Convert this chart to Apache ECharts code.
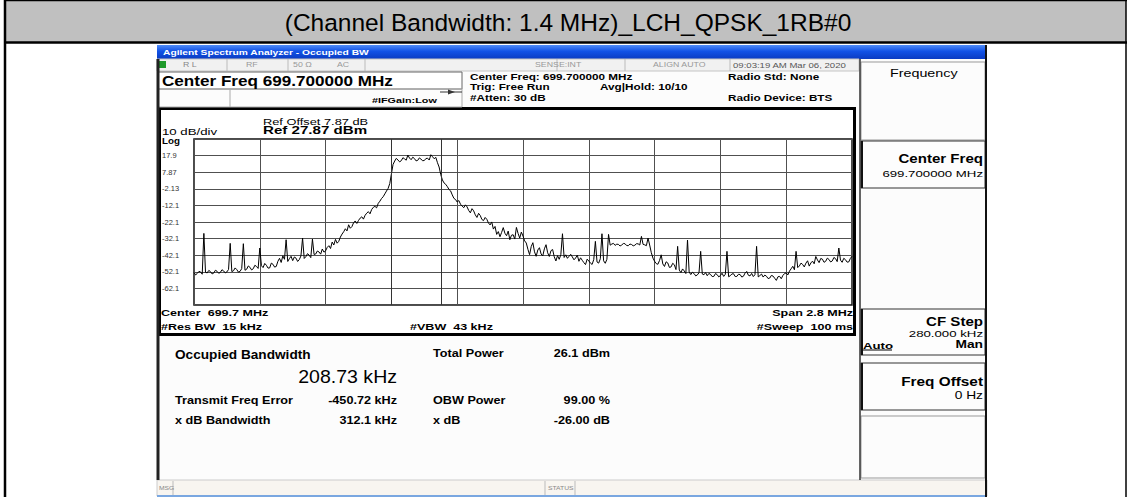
<!DOCTYPE html>
<html>
<head>
<meta charset="utf-8">
<title>Occupied BW</title>
<script src="https://cdn.jsdelivr.net/npm/echarts@6/dist/echarts.min.js"></script>
<style>
  html, body { margin: 0; padding: 0; background: #fff; }
  #main { width: 1130px; height: 497px; }
</style>
</head>
<body>
<div id="main"></div>
<script>
// values
const tableTitle = '(Channel Bandwidth: 1.4 MHz)_LCH_QPSK_1RB#0';
const startMHz = 698.3;
const spanMHz = 2.8;
const refLevel = 27.87; // dBm at top graticule line
const yTickLabels = ['17.9', '7.87', '-2.13', '-12.1', '-22.1', '-32.1', '-42.1', '-52.1', '-62.1'];
const obwEdgesMHz = [699.1449, 699.3536];

// trace in dBm, 401 points across the span (20 per division)
const traceDbm = [
  -52.6, -54.0, -53.1, -51.9, -52.2, -53.6, -29.0, -52.4, -52.8, -51.3, -52.0, -53.4, -52.9, -51.2, -51.8, -53.0, -52.5, -50.9, -51.6, -52.8,
  -52.2, -50.7, -35.0, -52.0, -51.5, -49.8, -50.8, -52.3, -51.9, -50.2, -35.2, -51.2, -50.6, -48.6, -49.4, -51.0, -50.3, -48.2, -48.9, -50.1,
  -37.8, -48.5, -49.6, -47.1, -48.2, -49.9, -49.8, -46.9, -47.6, -49.3, -48.9, -45.8, -44.0, -46.5, -42.5, -44.6, -32.8, -45.9, -44.2, -42.8,
  -45.4, -43.2, -43.9, -45.9, -44.8, -42.6, -31.8, -44.1, -43.0, -41.2, -42.1, -43.6, -32.4, -41.7, -41.4, -39.6, -40.2, -41.5, -38.4, -40.3,
  -39.5, -37.4, -36.4, -38.1, -34.2, -36.0, -32.6, -34.9, -33.8, -31.2, -29.4, -28.0, -26.2, -27.5, -23.8, -25.9, -24.9, -22.6, -21.5, -23.0,
  -21.2, -19.8, -19.0, -20.4, -18.1, -16.8, -15.9, -17.2, -14.6, -13.3, -12.7, -13.6, -10.9, -9.6, -8.0, -6.9, -5.2, -3.5, -1.9, 1.0,
  6.8, 12.5, 14.6, 16.2, 15.2, 14.1, 14.8, 16.6, 15.9, 15.1, 18.2, 16.4, 15.4, 16.9, 16.1, 14.7, 15.0, 16.5, 15.7, 14.8,
  14.9, 16.1, 16.3, 15.2, 18.4, 17.2, 16.0, 16.8, 13.6, 11.0, 6.4, 3.2, 1.4, 0.6, -0.8, -2.5, -3.4, -5.8, -7.9, -8.6,
  -10.1, -9.2, -11.4, -12.6, -13.5, -11.8, -13.0, -15.2, -16.6, -14.1, -15.4, -17.8, -19.4, -16.9, -18.2, -20.6, -21.3, -19.4, -20.5, -22.7,
  -23.9, -22.1, -26.4, -24.8, -29.6, -27.9, -31.0, -28.4, -25.5, -28.9, -30.4, -27.6, -32.8, -30.1, -29.8, -32.4, -25.4, -29.0, -31.8, -28.2,
  -30.6, -33.5, -34.8, -38.6, -41.8, -36.9, -34.6, -40.1, -42.8, -39.0, -37.6, -41.4, -42.6, -38.3, -35.8, -40.7, -42.9, -39.4, -38.7, -43.1,
  -45.6, -42.4, -44.6, -41.8, -29.2, -43.5, -41.9, -44.0, -42.8, -41.6, -43.2, -44.9, -43.8, -42.1, -45.8, -43.7, -45.2, -46.6, -47.8, -44.5,
  -45.6, -46.9, -47.7, -44.8, -33.8, -46.2, -46.9, -44.3, -29.2, -45.5, -47.0, -44.6, -29.6, -36.1, -35.4, -35.0, -36.2, -35.5, -35.6, -36.6,
  -36.0, -35.1, -35.2, -36.3, -36.4, -35.4, -35.7, -36.5, -36.1, -35.2, -35.3, -36.0, -30.8, -35.6, -35.9, -36.4, -31.8, -36.0, -40.6, -43.9,
  -45.8, -47.2, -47.6, -45.3, -41.9, -47.4, -48.9, -46.1, -46.8, -49.5, -49.2, -47.0, -47.9, -50.8, -36.8, -51.1, -52.6, -50.4, -51.6, -53.2,
  -33.0, -52.2, -53.8, -52.4, -53.2, -54.6, -54.0, -52.7, -39.8, -53.5, -53.9, -52.6, -54.5, -53.1, -53.7, -55.0, -54.9, -53.2, -53.8, -55.2,
  -54.4, -53.0, -54.9, -53.6, -39.8, -55.1, -54.5, -53.4, -53.3, -55.0, -54.9, -53.6, -53.8, -55.3, -54.8, -52.9, -51.9, -54.2, -54.6, -53.1,
  -55.0, -53.9, -36.8, -55.2, -54.4, -53.5, -55.3, -54.1, -54.8, -56.2, -55.9, -54.3, -54.7, -56.0, -57.3, -55.1, -54.9, -56.3, -54.3, -53.2,
  -52.8, -54.0, -51.7, -50.3, -48.8, -50.9, -39.8, -49.6, -48.6, -46.9, -47.7, -49.2, -46.9, -45.5, -48.7, -46.8, -45.7, -47.3, -42.9, -45.0,
  -46.6, -44.1, -44.5, -46.4, -45.8, -43.9, -44.7, -46.2, -45.6, -43.5, -44.2, -46.0, -37.8, -45.1, -46.4, -44.0, -44.8, -46.3, -46.2, -44.1,
  -42.8
];

// measurement table text
const measLeft = [['Transmit Freq Error', '-450.72 kHz'], ['x dB Bandwidth', '312.1 kHz']];
const measRight = [['Total Power', '26.1 dBm'], ['OBW Power', '99.00 %'], ['x dB', '-26.00 dB']];

const FONT = '"Liberation Sans", Arial, sans-serif';
const SX = 1.35; // the screen grab is stretched sideways

function txt(x, y, s, size, o) {
  o = o || {};
  let al = o.align || 'left';
  return {
    type: 'text', x: x, y: y, scaleX: o.sx || 1, z: 10,
    style: {
      text: s, x: 0, y: 0,
      font: (o.bold ? 'bold ' : '') + size + 'px ' + FONT,
      fill: o.color || '#000',
      textAlign: al, align: al,
      textVerticalAlign: 'middle', verticalAlign: 'middle'
    }
  };
}
// screen text: stretched like the grab
function stxt(x, y, s, size, o) {
  o = o || {};
  o.sx = o.sx || SX;
  return txt(x, y, s, size, o);
}
function box(x, y, w, h, fill, stroke, lw, z) {
  return {
    type: 'rect', z: z == null ? -1 : z,
    shape: { x: x, y: y, width: w, height: h },
    style: { fill: fill || 'none', stroke: stroke || null, lineWidth: lw || 1 }
  };
}
function ln(x1, y1, x2, y2, color, lw, z) {
  return {
    type: 'line', z: z == null ? 5 : z,
    shape: { x1: x1, y1: y1, x2: x2, y2: y2 },
    style: { stroke: color || '#000', lineWidth: lw || 1 }
  };
}

let g = [];
// outer table
g.push(box(5, 1, 1121, 41, '#c0c0c0'));
g.push(ln(4, 0.5, 1127, 0.5, '#000', 1.5));
g.push(ln(4, 42.5, 1127, 42.5, '#000', 2.5));
g.push(ln(5, 0, 5, 497, '#000', 2.5));
g.push(ln(1126, 0, 1126, 497, '#000', 1.5));
g.push(txt(568, 22, tableTitle, 24.5, { align: 'center' }));

// analyzer screen
g.push(box(157, 45, 830, 452, '#fcfcfc'));
g.push(box(157, 45, 830, 14, {
  type: 'linear', x: 0, y: 0, x2: 0, y2: 1,
  colorStops: [{ offset: 0, color: '#4f8cf8' }, { offset: 0.45, color: '#1252e6' }, { offset: 1, color: '#0a3bc2' }]
}, null, 1, 0));
g.push(stxt(163, 52, 'Agilent Spectrum Analyzer - Occupied BW', 7.6, { bold: true, color: '#fff' }));

// status row
g.push(box(157, 59, 702, 12, '#f1f1f1', '#c4c4c4', 1, 0));
g.push(box(158, 61, 8, 7, '#1f9a2a', null, 1, 1));
[227, 288, 365, 557, 625, 730].forEach(function (x) { g.push(ln(x, 59, x, 71, '#bbb', 1)); });
g.push(stxt(183, 65, 'R L', 6.5, { color: '#888' }));
g.push(stxt(246, 65, 'RF', 6.5, { color: '#999' }));
g.push(stxt(293, 65, '50 \u03A9', 6.5, { color: '#999' }));
g.push(stxt(337, 65, 'AC', 6.5, { color: '#999' }));
g.push(stxt(535, 65, 'SENSE:INT', 6.5, { color: '#999' }));
g.push(stxt(653, 65, 'ALIGN AUTO', 6.5, { color: '#999' }));
g.push(stxt(733, 65, '09:03:19 AM Mar 06, 2020', 7.1, { color: '#555' }));

// settings area
g.push(box(158, 72, 304, 17, '#fff', '#666', 1, 0));
g.push(stxt(162, 81, 'Center Freq 699.700000 MHz', 14.5, { bold: true, sx: 1.18 }));
g.push(box(158, 89, 304, 18, null, '#aaa', 1, 0));
g.push(ln(230, 89, 230, 107, '#aaa', 1));
g.push(ln(440, 92, 462, 92, '#333', 1));
g.push({ type: 'polygon', z: 6, shape: { points: [[448, 89.5], [455, 92], [448, 94.5]] }, style: { fill: '#333' } });
g.push(stxt(372, 100, '#IFGain:Low', 8, { bold: true }));
g.push(stxt(470, 77, 'Center Freq: 699.700000 MHz', 8.7, { bold: true }));
g.push(stxt(470, 87, 'Trig: Free Run', 8.7, { bold: true }));
g.push(stxt(600, 87, 'Avg|Hold: 10/10', 8.7, { bold: true }));
g.push(stxt(470, 98, '#Atten: 30 dB', 8.7, { bold: true }));
g.push(stxt(728, 77, 'Radio Std: None', 8.7, { bold: true }));
g.push(stxt(728, 98, 'Radio Device: BTS', 8.7, { bold: true }));

// graph frame
g.push(box(159.5, 108.5, 695, 226, '#fff', '#000', 3, -1));
g.push(ln(158, 59, 158, 480, '#222', 3));
g.push(stxt(263, 122, 'Ref Offset 7.87 dB', 9.5));
g.push(stxt(263, 130.5, 'Ref 27.87 dBm', 11.2, { bold: true }));
g.push(stxt(162, 131, '10 dB/div', 9.8));
g.push(stxt(162, 141, 'Log', 8.5, { bold: true, sx: 1.15 }));
g.push(stxt(161, 313, 'Center  699.7 MHz', 9.3, { bold: true }));
g.push(stxt(161, 327, '#Res BW  15 kHz', 9.3, { bold: true }));
g.push(stxt(410, 327, '#VBW  43 kHz', 9.3, { bold: true }));
g.push(stxt(853, 313, 'Span 2.8 MHz', 9.3, { bold: true, align: 'right' }));
g.push(stxt(853, 327, '#Sweep  100 ms', 9.3, { bold: true, align: 'right' }));

// measurement panel
g.push(txt(175, 355, 'Occupied Bandwidth', 13, { bold: true, sx: 1.05 }));
g.push(txt(397, 377, '208.73 kHz', 18.6, { align: 'right', sx: 1.05 }));
measLeft.forEach(function (r, i) {
  g.push(txt(175, 400 + i * 20, r[0], 11.5, { bold: true, sx: 1.1 }));
  g.push(txt(397, 400 + i * 20, r[1], 11.5, { bold: true, align: 'right', sx: 1.1 }));
});
[353, 400, 420].forEach(function (y, i) {
  g.push(txt(433, y, measRight[i][0], 11.5, { bold: true, sx: 1.1 }));
  g.push(txt(610, y, measRight[i][1], 11.5, { bold: true, align: 'right', sx: 1.1 }));
});

// soft keys
g.push(ln(860, 59, 860, 480, '#333', 1.5));
g.push(box(861, 62, 124, 78, '#fcfcfc', '#999', 1, 0));
g.push(stxt(890, 73, 'Frequency', 11, { sx: 1.3 }));
[[141, 47], [309, 46], [363, 47]].forEach(function (b) {
  g.push(box(861, b[0], 124, b[1], '#fdfdfd', '#333', 1, 0));
  g.push(ln(862, b[0], 862, b[0] + b[1], '#111', 2));
});
g.push(box(861, 416, 124, 62, null, '#999', 1, 0));
g.push(txt(983, 158, 'Center Freq', 13, { bold: true, align: 'right', sx: 1.16 }));
g.push(stxt(983, 173, '699.700000 MHz', 9.8, { align: 'right' }));
g.push(txt(983, 321, 'CF Step', 13, { bold: true, align: 'right', sx: 1.16 }));
g.push(stxt(983, 333, '280.000 kHz', 9.8, { align: 'right' }));
g.push(stxt(863, 345, 'Auto', 9.8, { bold: true }));
g.push(ln(863, 350, 892, 350, '#000', 1));
g.push(stxt(983, 345, 'Man', 10.2, { bold: true, align: 'right' }));
g.push(txt(983, 381, 'Freq Offset', 13, { bold: true, align: 'right', sx: 1.18 }));
g.push(stxt(983, 396, '0 Hz', 10.2, { align: 'right' }));

// bottom status bar
g.push(box(157, 480, 830, 16, '#f8f5f0', '#ccc', 1, 0));
g.push(ln(173, 481, 173, 495, '#bbb', 1));
g.push(ln(545, 481, 545, 495, '#bbb', 1));
g.push(ln(575, 481, 575, 495, '#bbb', 1));
g.push(stxt(159, 488, 'MSG', 5, { color: '#888' }));
g.push(stxt(548, 488, 'STATUS', 5, { color: '#888' }));
g.push(ln(157, 496, 987, 496, '#7aa7e0', 2));
g.push(ln(986, 45, 986, 497, '#111', 2));

const stepMHz = spanMHz / (traceDbm.length - 1);
const traceData = traceDbm.map(function (v, i) { return [i * stepMHz, v - refLevel]; });

let chart = echarts.init(document.getElementById('main'), null, { renderer: 'svg' });
chart.setOption({
  animation: false,
  backgroundColor: '#fff',
  graphic: { elements: g },
  grid: { left: 194, top: 139, width: 658, height: 166, show: true, borderColor: '#111', borderWidth: 1.5, backgroundColor: 'transparent' },
  xAxis: {
    type: 'value', min: 0, max: spanMHz, interval: spanMHz / 10,
    axisLine: { show: false }, axisTick: { show: false }, axisLabel: { show: false },
    splitLine: { show: true, lineStyle: { color: '#505050', width: 1 } }
  },
  yAxis: {
    type: 'value', min: -100, max: 0, interval: 10,
    axisLine: { show: false }, axisTick: { show: false },
    axisLabel: {
      margin: 32, align: 'left', fontSize: 7.5, color: '#333', fontFamily: FONT,
      formatter: function (v) {
        let k = Math.round(-v / 10) - 1;
        return yTickLabels[k] || '';
      }
    },
    splitLine: { show: true, lineStyle: { color: '#505050', width: 1 } }
  },
  series: [{
    type: 'line', data: traceData, symbol: 'none',
    lineStyle: { color: '#000', width: 1 },
    markLine: {
      silent: true, symbol: 'none', label: { show: false },
      lineStyle: { color: '#333', width: 1, type: 'solid' },
      data: obwEdgesMHz.map(function (f) { return { xAxis: f - startMHz }; })
    }
  }]
});
</script>
</body>
</html>
